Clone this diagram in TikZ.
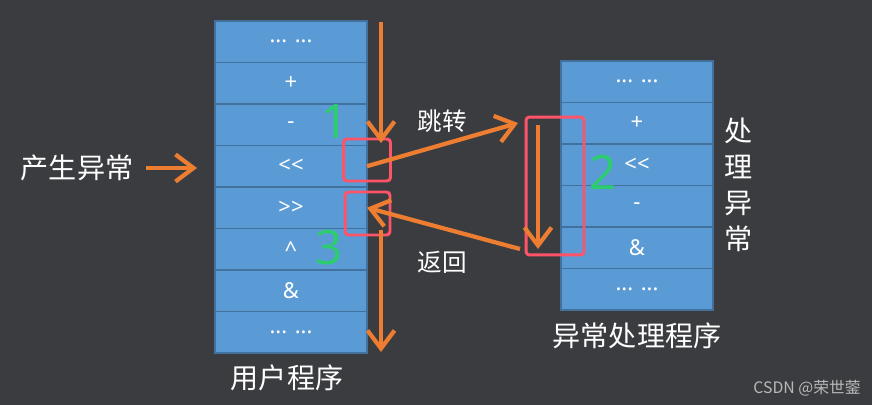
\documentclass[tikz,border=0pt]{standalone}
\usepackage{fontspec}
\newfontfamily\cellfont{Noto Sans}
\newfontfamily\cjk{Noto Sans CJK SC}
\usetikzlibrary{positioning,arrows.meta}
\definecolor{DarkBack}{RGB}{59,60,64}
\definecolor{CellBlue}{RGB}{91,155,213}
\definecolor{CellEdge}{RGB}{65,113,156}
\definecolor{ArrowOrange}{RGB}{237,125,49}
\definecolor{MarkRed}{RGB}{255,84,104}
\definecolor{StepGreen}{RGB}{46,204,113}
\definecolor{WaterGray}{RGB}{185,185,185}
\tikzset{
  cell/.style={draw=CellEdge,fill=CellBlue,line width=1pt,outer sep=0pt,
    minimum width=3.04cm,minimum height=0.83cm,inner sep=0pt,
    text=white,font=\cellfont\fontsize{12.5}{14}\selectfont},
  flow/.style={-{Straight Barb[length=3.6mm,width=5.4mm]},line width=2.4pt,draw=ArrowOrange},
  markbox/.style={draw=MarkRed,line width=1.7pt,rounded corners=2pt,inner sep=0pt},
  cjktext/.style={text=white,font=\cjk\fontsize{16}{20}\selectfont},
  smallcjk/.style={text=white,font=\cjk\fontsize{14}{17}\selectfont},
  stepnum/.style={text=StepGreen,font=\cellfont\fontsize{27}{29}\selectfont}
}

\begin{document}
\begin{tikzpicture}[x=0.02cm,y=-0.02cm,node distance=0cm]
  \fill[DarkBack] (0,0) rectangle (872,405);
  \useasboundingbox (0,0) rectangle (872,405);

  % user program
  \node[cell] (userdots) at (291,41.7) {... ...};
  \node[cell,below=of userdots] (userplus) {+};
  \node[cell,below=of userplus] (userminus) {-};
  \node[cell,below=of userminus] (usershl) {<\kern0pt<};
  \node[cell,below=of usershl] (usershr) {>\kern0pt>};
  \node[cell,below=of usershr] (usercaret) {\textasciicircum};
  \node[cell,below=of usercaret] (userand) {\&};
  \node[cell,below=of userand] (userend) {... ...};
  \node[cjktext] (usertitle) at (287,378) {用户程序};

  % handler
  \node[cell] (hdots) at (637,81.8) {... ...};
  \node[cell,below=of hdots] (hplus) {+};
  \node[cell,below=of hplus] (hshl) {<\kern0pt<};
  \node[cell,below=of hshl] (hminus) {-};
  \node[cell,below=of hminus] (hand) {\&};
  \node[cell,below=of hand] (hend) {... ...};
  \node[cjktext] (htitle) at (637,336) {异常处理程序};
  \node[cjktext,align=center,font=\cjk\fontsize{16}{20.5}\selectfont] (hside) at (739,185) {处\\理\\异\\常};

  % marks
  \node[markbox,minimum width=0.94cm,minimum height=0.84cm] (jumpmark) at (367,160) {};
  \node[markbox,minimum width=0.9cm,minimum height=0.86cm] (retmark) at (367.5,213.5) {};
  \node[markbox,minimum width=1.16cm,minimum height=2.76cm] (hmark) at (555,186) {};
  \node[stepnum] (one) at (335,122) {1};
  \node[stepnum] (two) at (603,172) {2};
  \node[stepnum] (three) at (329,248) {3};

  % flow
  \node[cjktext] (raise) at (77,168) {产生异常};
  \coordinate (entry) at (197,168);
  \draw[flow,shorten <=4pt] (raise) -- (entry);
  \coordinate (maintop) at (381,22);
  \coordinate (mainstop) at (381,143);
  \draw[flow] (maintop) -- (mainstop);
  \coordinate (resume) at (381,230);
  \coordinate (mainend) at (381,352);
  \draw[flow] (resume) -- (mainend);
  \coordinate (jumpend) at (518,123);
  \draw[flow] (usershl.east) -- (jumpend);
  \coordinate (retstart) at (520,249);
  \draw[flow] (retstart) -- (usershr.east);
  \coordinate (htop) at (538,125);
  \coordinate (hstop) at (538,249);
  \draw[flow] (htop) -- (hstop);
  \node[smallcjk] (jumptext) at (442,121) {跳转};
  \node[smallcjk] (rettext) at (442,262) {返回};

  \node[anchor=east,text=WaterGray,font=\cjk\fontsize{9}{11}\selectfont] (mark) at (867,388) {CSDN @荣世蓥};
\end{tikzpicture}
\end{document}
